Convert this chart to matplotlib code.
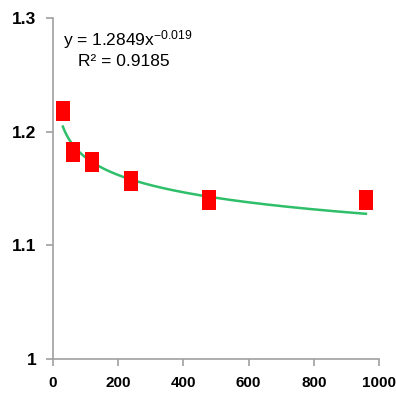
import numpy as np
import matplotlib.pyplot as plt

# measured points
x_pts = [30, 60, 120, 240, 480, 960]
y_pts = [1.218, 1.182, 1.173, 1.157, 1.140, 1.140]

# power trend fit y = a * x^b
a_fit = 1.2849
b_fit = -0.019
r2 = 0.9185

x_ticks = [0, 200, 400, 600, 800, 1000]
y_ticks = [1.0, 1.1, 1.2, 1.3]
y_ticklabels = ["1", "1.1", "1.2", "1.3"]

plt.rcParams['font.family'] = ['Liberation Sans', 'DejaVu Sans']

fig = plt.figure(figsize=(3.96, 4.0), dpi=100)
ax = fig.add_axes([0.134, 0.1025, 0.823, 0.8525])

xs = np.linspace(min(x_pts), max(x_pts), 300)
ax.plot(xs, a_fit * xs ** b_fit, color="#2fbf6a", lw=1.8, zorder=2)

# tall rectangle marker
rect = [(-0.32, -0.5), (0.32, -0.5), (0.32, 0.5), (-0.32, 0.5), (-0.32, -0.5)]
ax.plot(x_pts, y_pts, ls="none", marker=rect, ms=15, color="red",
        markeredgewidth=0, zorder=3)

ax.set_xlim(0, 1000)
ax.set_ylim(1.0, 1.3)
ax.set_xticks(x_ticks)
ax.set_yticks(y_ticks)
ax.set_yticklabels(y_ticklabels)

for side in ["top", "right"]:
    ax.spines[side].set_visible(False)
for side in ["left", "bottom"]:
    ax.spines[side].set_color("#a0a0a0")
    ax.spines[side].set_linewidth(1.2)
ax.tick_params(direction="out", length=5, width=1.2, color="#a0a0a0", pad=7)
ax.tick_params(axis="y", labelsize=12.5)
ax.tick_params(axis="x", labelsize=11)
for lab in ax.get_xticklabels() + ax.get_yticklabels():
    lab.set_fontweight("bold")

ax.text(0.03, 0.97, r"y = 1.2849x$\mathregular{^{-0.019}}$", transform=ax.transAxes,
        fontsize=12.5, va="top", ha="left")
ax.text(0.075, 0.895, f"R² = {r2}", transform=ax.transAxes,
        fontsize=12.5, va="top", ha="left")

fig.savefig("out.png", dpi=100)
